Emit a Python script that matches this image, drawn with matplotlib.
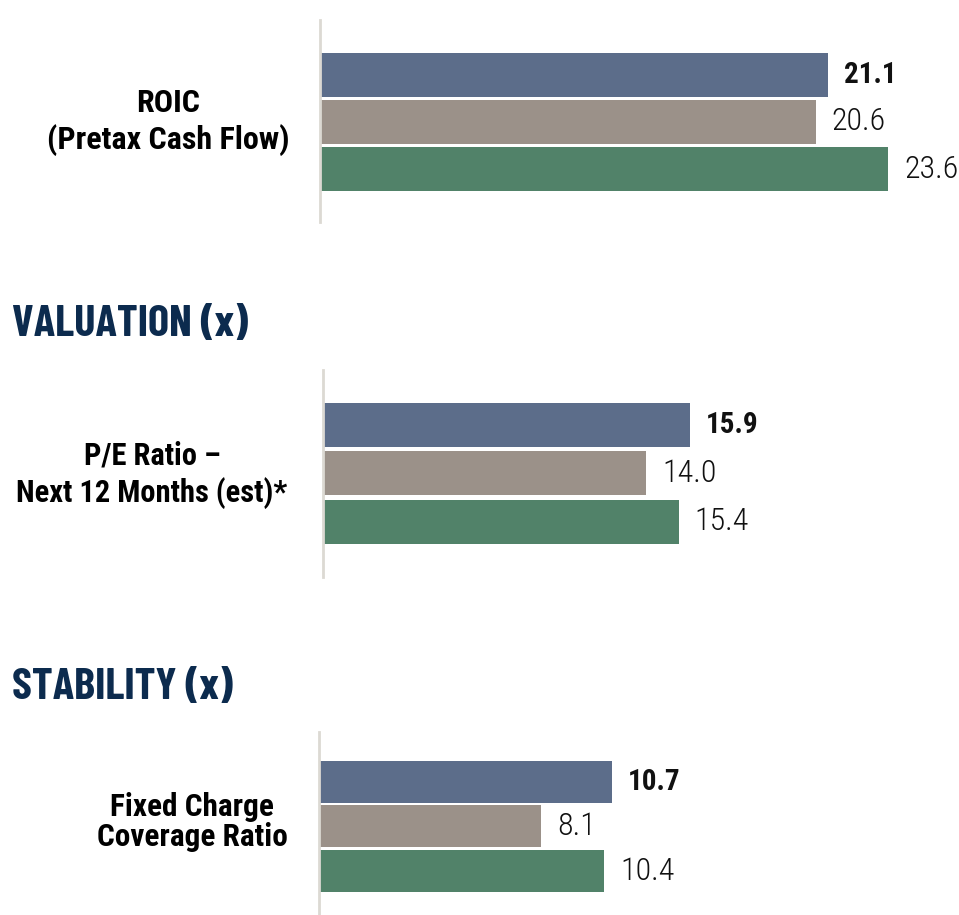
import matplotlib.pyplot as plt

plt.rcParams['font.family'] = ['Roboto Condensed', 'DejaVu Sans']

# 数据
roic_vals = [21.1, 20.6, 23.6]
pe_vals = [15.9, 14.0, 15.4]
fcc_vals = [10.7, 8.1, 10.4]
categories = ['ROIC\n(Pretax Cash Flow)', 'P/E Ratio –\nNext 12 Months (est)*',
              'Fixed Charge\nCoverage Ratio']
headings = ['VALUATION (x)', 'STABILITY (x)']

colors = ['#5c6d8a', '#9b9189', '#518269']
W, H = 959, 915

fig = plt.figure(figsize=(W / 100, H / 100), dpi=100)
fig.patch.set_facecolor('white')


def panel(vals, x0, top, bottom, px_per_unit, first_c, step, bar_h):
    # 以像素定位坐标轴
    ax = fig.add_axes([x0 / W, 1 - bottom / H, (W - x0) / W, (bottom - top) / H])
    ax.set_xlim(0, (W - x0) / px_per_unit)
    ax.set_ylim((bottom - first_c) / step, (top - first_c) / step)
    ys = list(range(len(vals)))
    ax.barh(ys, vals, height=bar_h / step, color=colors, left=0)
    for i, v in enumerate(vals):
        bold = i == 0
        ax.text(v + 16 / px_per_unit, i, f'{v:.1f}', va='center', ha='left',
                fontsize=21 if bold else 23, color='#111111',
                fontweight='bold' if bold else 300)
    for s in ['top', 'right', 'bottom']:
        ax.spines[s].set_visible(False)
    ax.spines['left'].set_color('#dcd9d3')
    ax.spines['left'].set_linewidth(2)
    ax.set_xticks([])
    ax.set_yticks([])
    return ax


def cat_label(text, x, y, size, spacing):
    fig.text(x / W, 1 - y / H, text, ha='center', va='center', fontsize=size,
             fontweight='bold', color='#000000', linespacing=spacing)


panel(roic_vals, 320, 20, 222, 24.07, 75, 47, 44)
panel(pe_vals, 323, 370, 577, 23.1, 425, 48.3, 44)
panel(fcc_vals, 319, 732, 915, 27.4, 781.5, 44.8, 42)

cat_label(categories[0], 168, 122, 23, 1.22)
cat_label(categories[1], 152, 475, 22, 1.25)
cat_label(categories[2], 192, 822, 22.5, 1.02)

# 分组标题
for text, y in zip(headings, [336, 699]):
    fig.text(12 / W, 1 - y / H, text, ha='left', va='baseline', fontsize=32,
             fontweight='bold', color='#0c2b4e',
             family=['Barlow Condensed', 'Roboto Condensed', 'DejaVu Sans'])

fig.savefig('out.png', dpi=100, facecolor='white')
